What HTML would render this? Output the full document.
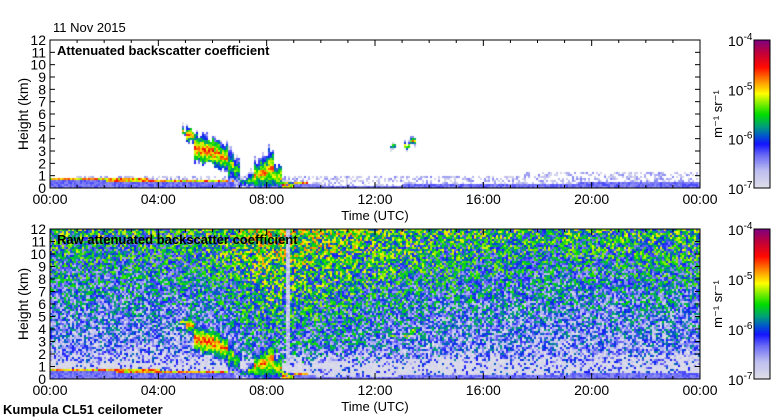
<!DOCTYPE html>
<html><head><meta charset="utf-8">
<style>
body{margin:0;width:780px;height:420px;background:#fff;overflow:hidden;font-family:"Liberation Sans",sans-serif;}
#wrap{position:relative;width:780px;height:420px;}
canvas{position:absolute;}
svg{position:absolute;left:0;top:0;}
</style></head>
<body>
<div id="wrap">
<canvas id="c1" width="650" height="148" style="left:50px;top:40px"></canvas>
<canvas id="c2" width="650" height="150" style="left:50px;top:229px"></canvas>
<canvas id="cb1" width="16" height="148" style="left:754px;top:40px"></canvas>
<canvas id="cb2" width="16" height="150" style="left:754px;top:229px"></canvas>
<svg id="ov" width="780" height="420"></svg>
</div>
<script>
// ---- data ----
// quarter-hour bins (96): cloud base/top (km) and peak log10 backscatter
const cloudBins = [19,20,21,22,23,24,25,26,27,28,29,30,31,32,33,34,35,50,52,53];
const cloudBase = [4.4,3.8,2.2,2.0,1.9,1.7,1.5,0.5,0.2,0.1,0.0,0.0,0.0,0.0,0.0,0.0,0.0,3.3,3.2,3.5];
const cloudTop  = [5.0,5.0,4.4,4.3,4.2,4.0,3.6,3.3,2.8,1.0,1.5,2.3,2.6,3.2,2.0,0.6,0.5,3.7,3.8,4.3];
const cloudPeak = [-4.8,-4.7,-4.6,-4.6,-4.6,-4.7,-4.8,-5.2,-5.4,-5.6,-5.3,-4.9,-4.8,-4.8,-5.0,-4.5,-4.6,-5.2,-5.0,-5.0];
// boundary layer top (km) every 2 hours (13 points 00..24)
const blTop = [0.7,0.65,0.6,0.55,0.5,0.3,0.3,0.35,0.4,0.45,0.5,0.5,0.5];
// raw-signal enhancement per 2 hours
const rawBoost = [0.0,0.0,0.0,0.1,0.45,0.35,0.2,0.1,0.05,0.0,0.0,0.05,0.05];
const yTicks = [0,1,2,3,4,5,6,7,8,9,10,11,12];
const xTickLabels = ["00:00","04:00","08:00","12:00","16:00","20:00","00:00"];
const cbLabels = ["-4","-5","-6","-7"];

const W=650;
function hash(x,y,s){let n=(x*374761393+y*668265263+s*1442695041)|0;n=(n^(n>>>13))*1274126177|0;n^=n>>>16;return ((n>>>0)%10000)/10000;}
const stops=[[0,[224,224,232]],[0.12,[190,190,240]],[0.22,[110,110,245]],[0.3,[20,20,255]],[0.36,[0,90,200]],[0.42,[0,160,120]],[0.5,[0,220,0]],[0.58,[140,240,0]],[0.64,[255,255,0]],[0.72,[255,150,0]],[0.82,[255,10,0]],[0.92,[190,0,60]],[1,[128,0,128]]];
function cmap(t){t=Math.max(0,Math.min(1,t));for(let i=1;i<stops.length;i++){if(t<=stops[i][0]){const a=stops[i-1],b=stops[i];const f=(t-a[0])/(b[0]-a[0]);return a[1].map((v,k)=>Math.round(v+(b[1][k]-v)*f));}}return stops[stops.length-1][1];}
function interp(arr,tHour){const p=tHour/2;const i=Math.min(arr.length-2,Math.floor(p));const f=p-i;return arr[i]*(1-f)+arr[i+1]*f;}
function cloudVal(tHour,h,x,y){const bin=Math.floor(tHour*4);const k=cloudBins.indexOf(bin);if(k<0)return null;
 const b=cloudBase[k],tp=cloudTop[k];const jt=(hash(x>>1,0,7)-0.5)*0.8,jb=(hash(x>>1,1,11)-0.5)*0.5;
 if(h<b+jb||h>tp+jt)return null;const mid=(b+tp)/2,half=(tp-b)/2+0.01;
 return cloudPeak[k]-1.5*Math.abs((h-mid)/half)+(hash(x,y,3)-0.5)*0.7;}
function draw(id,H,raw){const c=document.getElementById(id).getContext('2d');const img=c.createImageData(W,H);
 for(let y=0;y<H;y+=2)for(let x=0;x<W;x+=2){const t=x/W*24,h=(H-y)/H*12;let v=null;
  const bl=interp(blTop,t);
  const cv=cloudVal(t,h,x,y);
  if(cv!==null)v=cv;
  else if(h<bl)v=-6.35+(hash(x,y,1)-0.5)*0.25;
  else if(h<bl+0.2&&t<9.5)v=-4.9+(hash(x,y,2)-0.5)*0.8;
  else if(raw){ if(h<1.8+(hash(x,y,9)-0.5)*1.2)v=-7+(hash(x,y,4)>0.8?0.6+hash(x,y,10)*0.5:hash(x,y,4)*0.2);
   else{const bg=-6.7+0.085*h+interp(rawBoost,t);v=bg+(hash(x,y,5)-0.5)*1.4;}
   if(Math.abs(t-8.75)<0.09&&h>1.2)v=-7+hash(x,y,12)*0.5;}
  else{const lim=(t>17.5?1.4:1.0);if(h<lim&&hash(x,y,6)<0.45)v=-6.9+hash(x,y,8)*0.5;}
  let col=v===null?[255,255,255]:cmap((v+7)/3);
  for(let dy=0;dy<2&&y+dy<H;dy++)for(let dx=0;dx<2;dx++){const o=((y+dy)*W+x+dx)*4;img.data[o]=col[0];img.data[o+1]=col[1];img.data[o+2]=col[2];img.data[o+3]=255;}}
 c.putImageData(img,0,0);}
draw('c1',148,false);draw('c2',150,true);
function drawCb(id,H){const c=document.getElementById(id).getContext('2d');for(let y=0;y<H;y++){const col=cmap(1-y/H);c.fillStyle=`rgb(${col})`;c.fillRect(0,y,16,1);}}
drawCb('cb1',148);drawCb('cb2',150);

const NS="http://www.w3.org/2000/svg",ov=document.getElementById('ov');
function el(tag,attrs,txt){const e=document.createElementNS(NS,tag);for(const k in attrs)e.setAttribute(k,attrs[k]);if(txt!==undefined)e.textContent=txt;ov.appendChild(e);return e;}
function panel(top,H,title,pname){
 const xs=h=>50+h/24*650, ys=v=>top+H-v/12*H;
 const r=el('rect',{x:50,y:top,width:650,height:H,fill:'none',stroke:'#000','stroke-width':1});
 
 
 yTicks.forEach(v=>{const y=ys(v);el('line',{x1:50,x2:55,y1:y,y2:y,stroke:'#000'});el('line',{x1:695,x2:700,y1:y,y2:y,stroke:'#000'});
  const t=el('text',{x:46,y:y+5,'font-size':14,'text-anchor':'end'},String(v));
  
  });
 for(let hr=0;hr<=24;hr++){const x=xs(hr);const L=hr%4===0?6:3;el('line',{x1:x,x2:x,y1:top+H,y2:top+H-L,stroke:'#000'});el('line',{x1:x,x2:x,y1:top,y2:top+L,stroke:'#000'});}
 xTickLabels.forEach((s,i)=>{const t=el('text',{x:xs(i*4),y:top+H+16,'font-size':14,'text-anchor':'middle'},s);
  
  });
 const xt=el('text',{x:375,y:top+H+32,'font-size':13,'text-anchor':'middle'},'Time (UTC)');
 
 
 const yt=el('text',{x:0,y:0,'font-size':14,'text-anchor':'middle',transform:`translate(28,${top+H/2}) rotate(-90)`},'Height (km)');
 
 
 const tt=el('text',{x:57,y:top+15,'font-size':13,'font-weight':'bold'},title);
 
 
 el('rect',{x:754,y:top,width:16,height:H,fill:'none',stroke:'#000'});
 cbLabels.forEach((e,i)=>{const y=top+i*H/3;const t=el('text',{x:728,y:y+6,'font-size':14});t.textContent='10';
  const s=document.createElementNS(NS,'tspan');s.setAttribute('dy',-6);s.setAttribute('font-size',10);s.textContent=e;t.appendChild(s);
  
  });
 const u=el('text',{x:0,y:0,'font-size':13,'text-anchor':'middle',transform:`translate(722,${top+H/2}) rotate(-90)`},'m⁻¹ sr⁻¹');
 
 
}
panel(40,148,'Attenuated backscatter coefficient','top-panel');
panel(229,150,'Raw attenuated backscatter coefficient','bottom-panel');
const d=el('text',{x:53,y:32,'font-size':13},'11 Nov 2015');


const k=el('text',{x:3,y:414,'font-size':13,'font-weight':'bold'},'Kumpula CL51 ceilometer');


</script>
</body></html>
